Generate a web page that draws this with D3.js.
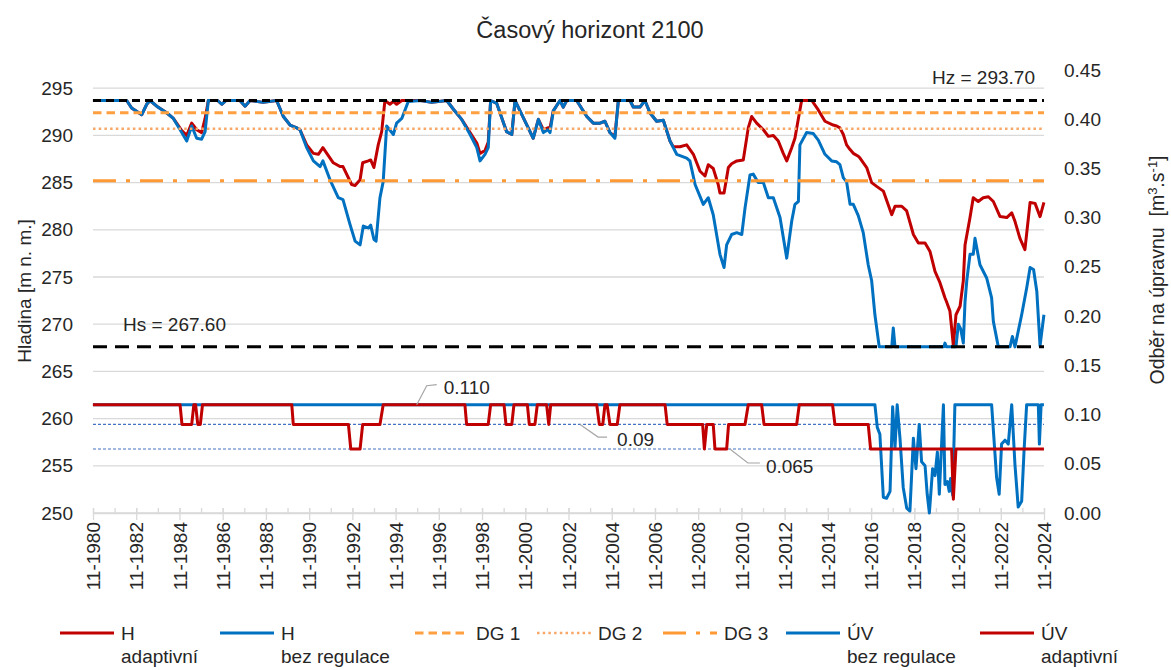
<!DOCTYPE html>
<meta charset="utf-8">
<body style="margin:0;background:#fff">
<script src="https://cdn.jsdelivr.net/npm/d3@7"></script>
<script>
var width = 1171,
    height = 670;

// x values are decimal years (month 11 = 1980 + 10/12)
var hAdaptivni = [
  [1980.83,293.7],[1982.39,293.7],[1982.62,292.9],[1983.09,292.2],[1983.32,293.3],[1983.47,293.7],[1983.78,293.1],
  [1984.24,292.4],[1984.55,291.8],[1984.94,290.5],[1985.17,290.0],[1985.40,291.3],[1985.63,290.6],[1985.86,290.3],
  [1986.02,291.8],[1986.17,293.7],[1986.60,293.7],[1986.79,293.3],[1986.99,293.7],[1987.63,293.7],[1987.87,293.1],
  [1988.10,293.7],[1988.70,293.5],[1989.33,293.7],[1989.64,292.0],[1989.95,291.1],[1990.26,290.8],[1990.41,290.6],
  [1990.72,289.0],[1991.03,288.1],[1991.26,288.0],[1991.47,288.7],[1991.65,288.1],[1991.95,287.1],[1992.26,286.7],
  [1992.40,286.7],[1992.80,284.8],[1992.96,284.7],[1993.19,285.3],[1993.31,287.1],[1993.57,287.3],[1993.68,287.4],
  [1993.83,286.6],[1994.03,289.0],[1994.19,290.4],[1994.34,293.7],[1994.57,293.3],[1994.73,293.6],[1994.88,293.3],
  [1995.12,293.7],[1996.00,293.7],[1996.50,293.5],[1997.20,293.7],[1997.50,292.8],[1997.89,291.7],[1998.28,290.3],
  [1998.59,289.2],[1998.74,288.1],[1998.97,288.4],[1999.12,289.3],[1999.23,293.7],[1999.51,293.4],[1999.97,290.4],
  [2000.21,290.1],[2000.36,293.7],[2000.59,292.6],[2000.97,290.8],[2001.20,289.7],[2001.44,291.7],[2001.67,290.6],
  [2001.88,290.8],[2001.98,290.8],[2002.13,292.6],[2002.44,293.7],[2002.59,293.0],[2002.75,293.7],[2003.21,293.7],
  [2003.68,292.0],[2003.98,291.3],[2004.29,291.3],[2004.52,291.5],[2004.75,290.3],[2004.98,289.9],[2005.14,293.7],
  [2005.68,293.7],[2005.83,293.0],[2006.14,293.0],[2006.37,293.7],[2006.60,292.4],[2006.91,291.5],[2007.22,291.6],
  [2007.53,289.4],[2007.68,288.8],[2007.99,288.8],[2008.30,289.0],[2008.61,288.0],[2008.92,286.2],[2009.15,285.7],
  [2009.30,286.9],[2009.53,286.5],[2009.76,284.8],[2009.84,283.9],[2010.03,283.9],[2010.23,286.6],[2010.38,287.0],
  [2010.62,287.3],[2010.92,287.4],[2011.15,290.8],[2011.31,292.0],[2011.54,291.3],[2011.85,290.6],[2012.08,289.9],
  [2012.31,290.0],[2012.54,289.4],[2012.77,288.1],[2012.93,287.3],[2013.16,288.7],[2013.31,289.7],[2013.47,291.8],
  [2013.62,293.7],[2014.09,293.7],[2014.39,292.7],[2014.70,291.5],[2015.08,291.1],[2015.24,291.0],[2015.39,290.8],
  [2015.55,290.1],[2015.70,289.0],[2015.86,288.5],[2016.01,288.1],[2016.24,287.8],[2016.32,287.6],[2016.63,286.6],
  [2016.86,285.0],[2017.09,284.6],[2017.40,284.1],[2017.79,281.6],[2017.94,282.5],[2018.25,282.5],[2018.48,282.0],
  [2018.79,279.5],[2019.02,278.6],[2019.33,278.6],[2019.56,277.7],[2019.79,275.6],[2020.02,274.4],[2020.25,272.8],
  [2020.32,272.4],[2020.48,271.4],[2020.56,269.6],[2020.64,267.7],[2020.76,271.0],[2020.95,271.9],[2021.10,274.6],
  [2021.18,278.4],[2021.41,281.3],[2021.56,283.4],[2021.79,283.0],[2022.02,283.4],[2022.26,283.5],[2022.49,283.0],
  [2022.80,281.4],[2023.11,281.3],[2023.34,281.8],[2023.49,280.9],[2023.72,279.1],[2023.95,277.9],[2024.19,282.9],
  [2024.42,282.8],[2024.65,281.4],[2024.83,282.9]
];

var hBezRegulace = [
  [1980.83,293.7],[1982.39,293.7],[1982.62,292.9],[1983.09,292.2],[1983.32,293.3],[1983.47,293.7],[1983.78,293.1],
  [1984.24,292.4],[1984.55,291.8],[1984.94,290.3],[1985.17,289.4],[1985.40,291.0],[1985.63,289.7],[1985.86,289.6],
  [1986.02,290.4],[1986.17,293.7],[1986.60,293.7],[1986.79,293.3],[1986.99,293.7],[1987.63,293.7],[1987.87,293.1],
  [1988.10,293.7],[1988.70,293.5],[1989.33,293.7],[1989.64,292.0],[1989.95,291.1],[1990.26,290.8],[1990.41,290.6],
  [1990.72,288.7],[1991.03,287.3],[1991.34,286.7],[1991.47,287.3],[1991.80,285.3],[1992.18,283.4],[1992.40,283.2],
  [1992.72,280.6],[1992.96,278.8],[1993.19,278.4],[1993.34,280.4],[1993.57,280.2],[1993.68,280.5],[1993.83,279.0],
  [1993.93,278.8],[1994.11,283.4],[1994.26,285.1],[1994.42,291.0],[1994.73,290.1],[1994.88,291.3],[1995.12,291.8],
  [1995.42,293.6],[1996.00,293.7],[1996.50,293.5],[1997.20,293.7],[1997.50,292.8],[1997.89,291.7],[1998.28,290.1],
  [1998.59,288.7],[1998.74,287.3],[1998.97,288.0],[1999.12,288.7],[1999.23,293.7],[1999.51,293.4],[1999.97,290.4],
  [2000.21,290.1],[2000.36,293.7],[2000.59,292.6],[2000.97,290.8],[2001.20,289.7],[2001.44,291.7],[2001.67,290.3],
  [2001.88,290.6],[2001.98,290.3],[2002.13,292.6],[2002.44,293.7],[2002.59,293.0],[2002.75,293.7],[2003.21,293.7],
  [2003.68,292.0],[2003.98,291.3],[2004.29,291.3],[2004.52,291.5],[2004.75,290.3],[2004.98,289.7],[2005.14,293.7],
  [2005.68,293.7],[2005.83,293.0],[2006.14,293.0],[2006.37,293.7],[2006.60,292.4],[2006.91,291.5],[2007.22,291.6],
  [2007.53,289.4],[2007.84,288.0],[2008.30,287.6],[2008.45,287.3],[2008.69,284.8],[2009.07,282.7],[2009.30,283.4],
  [2009.53,281.6],[2009.84,277.4],[2010.03,276.0],[2010.15,278.4],[2010.38,279.5],[2010.62,279.7],[2010.85,279.5],
  [2011.00,282.3],[2011.23,285.8],[2011.38,285.9],[2011.61,285.0],[2011.85,285.0],[2012.08,283.4],[2012.31,283.4],
  [2012.62,281.3],[2012.93,277.0],[2013.16,280.9],[2013.31,282.7],[2013.47,283.0],[2013.54,289.0],[2013.85,290.3],
  [2014.16,290.2],[2014.39,289.5],[2014.70,288.0],[2015.01,287.3],[2015.24,287.2],[2015.39,286.9],[2015.55,285.5],
  [2015.70,285.1],[2015.86,282.7],[2016.01,282.7],[2016.24,281.5],[2016.47,279.7],[2016.70,276.3],[2016.86,274.6],
  [2017.01,271.0],[2017.21,267.6],[2017.79,267.6],[2017.86,269.6],[2017.94,267.6],[2020.20,267.6],[2020.25,268.0],
  [2020.32,267.6],[2020.76,267.6],[2020.87,270.0],[2020.98,269.5],[2021.10,268.0],[2021.18,272.4],[2021.26,274.6],
  [2021.41,277.4],[2021.56,277.4],[2021.64,279.1],[2021.87,276.3],[2022.18,274.9],[2022.41,272.8],[2022.49,270.3],
  [2022.72,267.6],[2023.26,267.6],[2023.37,268.7],[2023.49,267.6],[2023.80,271.0],[2024.03,273.8],[2024.19,276.0],
  [2024.35,275.8],[2024.50,273.5],[2024.65,267.7],[2024.83,271.0]
];

var uvBezRegulace = [
  [1980.83,0.11],[2017.01,0.11],[2017.12,0.087],[2017.24,0.080],[2017.40,0.016],[2017.55,0.015],[2017.71,0.022],
  [2017.83,0.108],[2017.94,0.066],[2018.04,0.11],[2018.17,0.076],[2018.32,0.026],[2018.48,0.005],[2018.63,0.002],
  [2018.79,0.076],[2018.91,0.045],[2019.06,0.090],[2019.17,0.052],[2019.33,0.048],[2019.43,0.019],[2019.53,0.0],
  [2019.68,0.045],[2019.79,0.038],[2019.90,0.062],[2019.99,0.019],[2020.10,0.072],[2020.18,0.11],[2020.25,0.029],
  [2020.36,0.032],[2020.45,0.022],[2020.51,0.035],[2020.61,0.018],[2020.71,0.11],[2022.41,0.11],[2022.64,0.036],
  [2022.76,0.019],[2022.87,0.070],[2023.03,0.074],[2023.18,0.070],[2023.34,0.11],[2023.49,0.049],[2023.64,0.006],
  [2023.80,0.012],[2023.91,0.063],[2024.03,0.11],[2024.57,0.11],[2024.62,0.07],[2024.70,0.11],[2024.83,0.11]
];

var uvAdaptivni = [
  [1980.83,0.11],[1984.86,0.11],[1984.95,0.09],[1985.40,0.09],[1985.50,0.11],[1985.58,0.11],[1985.68,0.09],
  [1985.80,0.09],[1985.90,0.11],[1990.03,0.11],[1990.10,0.09],[1992.65,0.09],[1992.76,0.065],[1993.19,0.065],
  [1993.31,0.09],[1994.11,0.09],[1994.26,0.11],[1998.04,0.11],[1998.12,0.09],[1999.12,0.09],[1999.23,0.11],
  [1999.85,0.11],[1999.94,0.09],[2000.21,0.09],[2000.31,0.11],[2000.93,0.11],[2001.02,0.09],[2001.28,0.09],
  [2001.39,0.11],[2001.82,0.11],[2001.92,0.09],[2002.01,0.11],[2004.14,0.11],[2004.26,0.09],[2004.42,0.09],
  [2004.52,0.11],[2004.62,0.11],[2004.75,0.09],[2005.09,0.09],[2005.21,0.11],[2007.30,0.11],[2007.40,0.09],
  [2009.04,0.09],[2009.12,0.065],[2009.23,0.09],[2009.53,0.09],[2009.61,0.065],[2010.15,0.065],[2010.24,0.09],
  [2011.00,0.09],[2011.15,0.11],[2011.77,0.11],[2011.88,0.09],[2013.39,0.09],[2013.51,0.11],[2015.05,0.11],
  [2015.16,0.09],[2016.70,0.09],[2016.81,0.065],[2020.56,0.065],[2020.64,0.014],[2020.76,0.065],[2024.83,0.065]
];

var hz = 293.7, hs = 267.6;
var dg1 = 292.4, dg2 = 290.7, dg3 = 285.2;
var uvLevels = [0.09, 0.065];

var leftTicks = [250, 255, 260, 265, 270, 275, 280, 285, 290, 295];
var rightTicks = [0, 0.05, 0.10, 0.15, 0.20, 0.25, 0.30, 0.35, 0.40, 0.45];
var xTickLabels = ["11-1980","11-1982","11-1984","11-1986","11-1988","11-1990","11-1992","11-1994",
  "11-1996","11-1998","11-2000","11-2002","11-2004","11-2006","11-2008","11-2010","11-2012","11-2014",
  "11-2016","11-2018","11-2020","11-2022","11-2024"];

// labelled values on the ÚV lines: [text, year of leader start, value]
var uvNotes = [["0.110", 1995.81, 0.11], ["0.09", 2003.37, 0.09], ["0.065", 2010.30, 0.065]];

var font = "'Liberation Sans', Arial, sans-serif";
var textColor = "#262626";
var red = "#c00000", blue = "#0070c0";

var svg = d3.select("body").append("svg")
    .attr("width", width)
    .attr("height", height)
    .style("font-family", font);

var x = d3.scaleLinear().domain([1980 + 10/12, 2024 + 10/12]).range([93, 1044]);
var yL = d3.scaleLinear().domain([250, 296.93]).range([513, 70]);
var yR = d3.scaleLinear().domain([0, 0.45]).range([513, 70]);

// gridlines
svg.append("g").selectAll("line").data(leftTicks).join("line")
    .attr("x1", x.range()[0]).attr("x2", x.range()[1])
    .attr("y1", d => yL(d)).attr("y2", d => yL(d))
    .attr("stroke", "#d9d9d9").attr("stroke-width", 1.3);

// y axes
var gl = svg.append("g").attr("transform", "translate(93,0)")
    .call(d3.axisLeft(yL).tickValues(leftTicks).tickSize(0).tickPadding(20));
gl.select(".domain").remove();
gl.selectAll("text").attr("font-size", 19).attr("fill", textColor).style("font-family", font);

var gr = svg.append("g").attr("transform", "translate(1044,0)")
    .call(d3.axisRight(yR).tickValues(rightTicks).tickSize(0).tickPadding(20).tickFormat(d3.format(".2f")));
gr.select(".domain").remove();
gr.selectAll("text").attr("font-size", 19).attr("fill", textColor).style("font-family", font);

// x axis
var majorT = xTickLabels.map(s => +s.slice(3) + 10/12);
var minorT = d3.range(0, 45).map(i => 1980 + 10/12 + i);

var gxm = svg.append("g").attr("transform", "translate(0,513)")
    .call(d3.axisBottom(x).tickValues(minorT).tickFormat("").tickSizeOuter(0));
gxm.select(".domain").attr("stroke", "#d9d9d9").attr("stroke-width", 1.3);
gxm.selectAll(".tick line").attr("y1", -5).attr("y2", 0).attr("stroke", "#d9d9d9").attr("stroke-width", 1.3);

var gx = svg.append("g").attr("transform", "translate(0,513)")
    .call(d3.axisBottom(x).tickValues(majorT).tickFormat((d, i) => xTickLabels[i]).tickSizeOuter(0));
gx.select(".domain").remove();
gx.selectAll(".tick line").attr("y1", -5).attr("y2", 7).attr("stroke", "#d9d9d9").attr("stroke-width", 1.3);
gx.selectAll("text")
    .attr("transform", "rotate(-90)")
    .attr("x", -9).attr("y", 0).attr("dy", "0.35em")
    .style("text-anchor", "end")
    .attr("font-size", 19).attr("fill", textColor).style("font-family", font);

// threshold lines on the right axis
svg.append("g").selectAll("line").data(uvLevels).join("line")
    .attr("x1", x.range()[0]).attr("x2", x.range()[1])
    .attr("y1", d => yR(d)).attr("y2", d => yR(d))
    .attr("stroke", "#4472c4").attr("stroke-width", 1.2).attr("stroke-dasharray", "3,2");

var lineL = d3.line().x(d => x(d[0])).y(d => yL(d[1]));
var lineR = d3.line().x(d => x(d[0])).y(d => yR(d[1]));

function hline(v, color, w, dash) {
  svg.append("line")
      .attr("x1", x.range()[0]).attr("x2", x.range()[1])
      .attr("y1", yL(v)).attr("y2", yL(v))
      .attr("stroke", color).attr("stroke-width", w).attr("stroke-dasharray", dash);
}

svg.append("path").datum(hAdaptivni).attr("d", lineL)
    .attr("fill", "none").attr("stroke", red).attr("stroke-width", 3).attr("stroke-linejoin", "round");
svg.append("path").datum(hBezRegulace).attr("d", lineL)
    .attr("fill", "none").attr("stroke", blue).attr("stroke-width", 3).attr("stroke-linejoin", "round");

hline(dg1, "#ffa040", 3, "8.5,5");
hline(dg2, "#f7a868", 2.5, "2.5,3.2");
hline(dg3, "#ff9933", 3, "23,10,4,10");
hline(hz, "#000", 3, "8,5");
hline(hs, "#000", 3, "14,8");

svg.append("path").datum(uvBezRegulace).attr("d", lineR)
    .attr("fill", "none").attr("stroke", blue).attr("stroke-width", 3).attr("stroke-linejoin", "round");
svg.append("path").datum(uvAdaptivni).attr("d", lineR)
    .attr("fill", "none").attr("stroke", red).attr("stroke-width", 3).attr("stroke-linejoin", "round");

// annotations
svg.append("text").attr("x", 1035).attr("y", yL(hz) - 16).attr("text-anchor", "end")
    .attr("font-size", 19).attr("fill", textColor).text("Hz = 293.70");
svg.append("text").attr("x", 123).attr("y", yL(hs) - 16)
    .attr("font-size", 19).attr("fill", textColor).text("Hs = 267.60");

var offs = [[[10, -19], [20, -20], [27, -11]], [[18, 12.7], [27, 12.7], [37, 22]], [[18, 14], [30, 14], [36, 24]]];
uvNotes.forEach(function(n, i) {
  var px = x(n[1]), py = yR(n[2]), o = offs[i];
  svg.append("polyline")
      .attr("points", [[px, py], [px + o[0][0], py + o[0][1]], [px + o[1][0], py + o[1][1]]].join(" "))
      .attr("fill", "none").attr("stroke", "#a6a6a6").attr("stroke-width", 1.2);
  svg.append("text").attr("x", px + o[2][0]).attr("y", py + o[2][1])
      .attr("font-size", 19).attr("fill", textColor).text(n[0]);
});

// titles
svg.append("text").attr("x", 590).attr("y", 38).attr("text-anchor", "middle")
    .attr("font-size", 23.5).attr("fill", textColor).text("Časový horizont 2100");

svg.append("text").attr("transform", "translate(24,291) rotate(-90)").attr("dy", "0.35em")
    .attr("text-anchor", "middle").attr("font-size", 19).attr("fill", textColor)
    .text("Hladina [m n. m.]");

var rt = svg.append("text").attr("transform", "translate(1157,270) rotate(-90)").attr("dy", "0.35em")
    .attr("text-anchor", "middle").attr("font-size", 19.5).attr("fill", textColor);
rt.append("tspan").text("Odběr na úpravnu\u00a0\u00a0[m");
rt.append("tspan").attr("dy", -7).attr("font-size", 13).text("3");
rt.append("tspan").attr("dy", 7).text(".s");
rt.append("tspan").attr("dy", -7).attr("font-size", 13).text("-1");
rt.append("tspan").attr("dy", 7).text("]");

// legend
var legendItems = [
  {lines: ["H", "adaptivní"], color: red, w: 3, dash: null, x: 60},
  {lines: ["H", "bez regulace"], color: blue, w: 3, dash: null, x: 220},
  {lines: ["DG 1"], color: "#ffa040", w: 3, dash: "8.5,5", x: 415},
  {lines: ["DG 2"], color: "#f7a868", w: 2.5, dash: "2.5,3.2", x: 537},
  {lines: ["DG 3"], color: "#ff9933", w: 3, dash: "23,10,4,10", x: 663},
  {lines: ["ÚV", "bez regulace"], color: blue, w: 3, dash: null, x: 786},
  {lines: ["ÚV", "adaptivní"], color: red, w: 3, dash: null, x: 980}
];
var lg = svg.append("g").selectAll("g").data(legendItems).join("g")
    .attr("transform", d => "translate(" + d.x + ",633)");
lg.append("line").attr("x1", 0).attr("x2", 54)
    .attr("stroke", d => d.color).attr("stroke-width", d => d.w)
    .attr("stroke-dasharray", d => d.dash);
lg.each(function(d) {
  var g = d3.select(this);
  d.lines.forEach(function(t, i) {
    g.append("text").attr("x", 61).attr("y", 7 + i * 23)
        .attr("font-size", 19).attr("fill", textColor).text(t);
  });
});
</script>
</body>
